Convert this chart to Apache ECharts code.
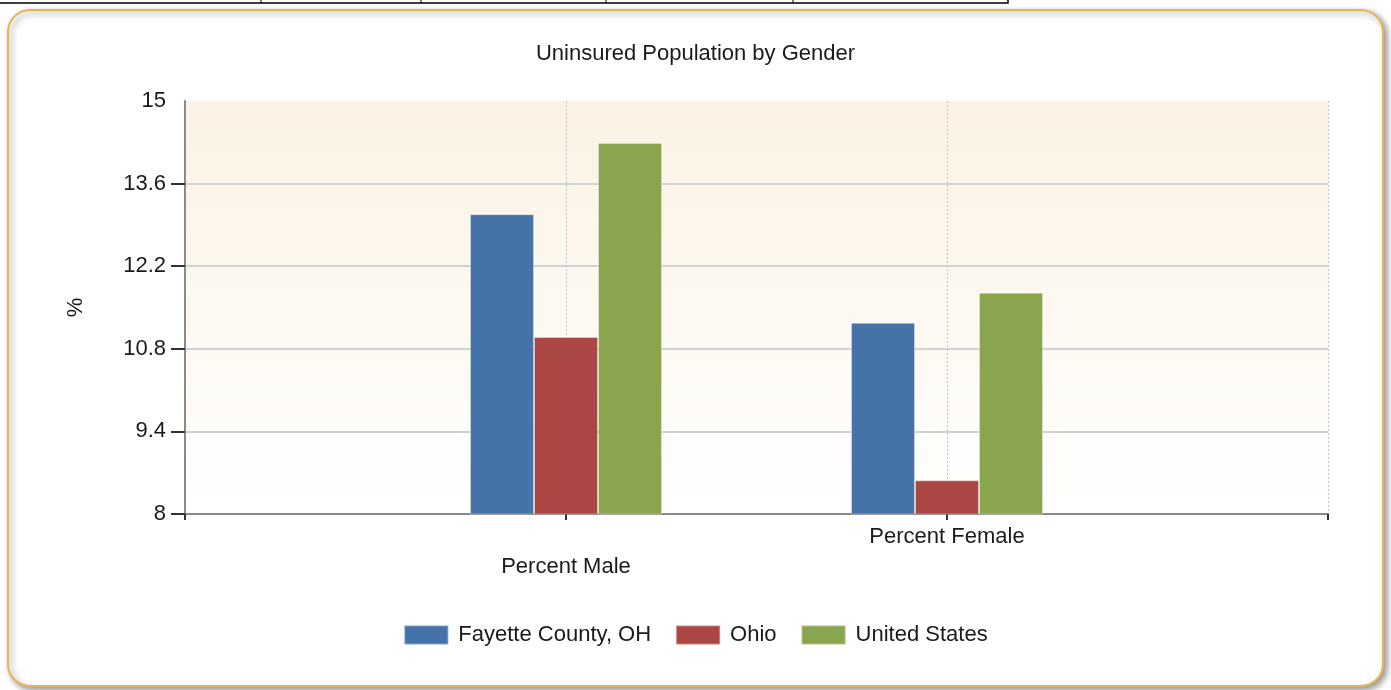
<!DOCTYPE html>
<html>
<head>
<meta charset="utf-8">
<script src="https://cdn.jsdelivr.net/npm/echarts@6/dist/echarts.min.js"></script>
<style>
html,body{margin:0;padding:0;background:#fff;}
#chart{width:1391px;height:690px;}
</style>
</head>
<body>
<div id="chart"></div>
<script>
const title = 'Uninsured Population by Gender';
const categories = ['Percent Male', 'Percent Female'];
const seriesNames = ['Fayette County, OH', 'Ohio', 'United States'];
const fayette = [13.08, 11.24];
const ohio = [11.0, 8.57];
const unitedStates = [14.29, 11.75];
const yTicks = [8, 9.4, 10.8, 12.2, 13.6, 15];
const yTickMarks = [8, 9.4, 10.8, 12.2, 13.6];
const colors = ['#4572A7', '#AA4643', '#89A54E'];

const axisCats = [''].concat(categories, ['']);
function pad(arr) { return [null].concat(arr, [null]); }
const allValues = [fayette, ohio, unitedStates];

const font = '"Liberation Sans", Arial, sans-serif';
const chart = echarts.init(document.getElementById('chart'), null, {renderer: 'canvas'});
chart.setOption({
  backgroundColor: '#ffffff',
  animation: false,
  textStyle: {fontFamily: font},
  graphic: [
    {type: 'rect', z: -10, shape: {x: 8, y: 10, width: 1375, height: 676, r: 22},
     style: {fill: '#ffffff', stroke: '#E8B552', lineWidth: 2,
             shadowBlur: 6, shadowOffsetX: 3, shadowOffsetY: 3, shadowColor: 'rgba(0,0,0,0.4)'}},
    {type: 'rect', z: 10, shape: {x: -2, y: -1, width: 1010, height: 4},
     style: {fill: 'none', stroke: '#000', lineWidth: 1.5}},
    {type: 'line', z: 10, shape: {x1: 261, y1: 0, x2: 261, y2: 3}, style: {stroke: '#000', lineWidth: 1}},
    {type: 'line', z: 10, shape: {x1: 421, y1: 0, x2: 421, y2: 3}, style: {stroke: '#000', lineWidth: 1}},
    {type: 'line', z: 10, shape: {x1: 606, y1: 0, x2: 606, y2: 3}, style: {stroke: '#000', lineWidth: 1}},
    {type: 'line', z: 10, shape: {x1: 793, y1: 0, x2: 793, y2: 3}, style: {stroke: '#000', lineWidth: 1}}
  ],
  title: {
    text: title, left: 'center', top: 38,
    textStyle: {fontSize: 22, fontWeight: 'normal', color: '#1a1a1a', fontFamily: font}
  },
  legend: {
    data: seriesNames, top: 619, left: 'center',
    itemWidth: 44, itemHeight: 19, itemGap: 24, icon: 'rect',
    textStyle: {fontSize: 22, color: '#1a1a1a', fontFamily: font, padding: [0, 0, 0, 5]}
  },
  grid: {
    left: 185, right: 63, top: 101, bottom: 176, containLabel: false, show: true,
    borderWidth: 0,
    backgroundColor: {type: 'linear', x: 0, y: 0, x2: 0, y2: 1,
      colorStops: [{offset: 0, color: '#FBF2E3'}, {offset: 1, color: '#FFFFFF'}]}
  },
  xAxis: {
    type: 'category', data: axisCats, boundaryGap: false,
    axisLine: {lineStyle: {color: '#8a8a8a', width: 2}},
    axisTick: {show: true, length: 6, lineStyle: {color: '#333', width: 2}},
    axisLabel: {
      interval: 0, margin: 8, fontSize: 22, color: '#1a1a1a', lineHeight: 30, fontFamily: font,
      formatter: function (v, i) { return i === 1 ? '\n' + v : v; }
    },
    splitLine: {show: true, lineStyle: {color: '#c4c4c4', type: [2, 2], width: 1}}
  },
  yAxis: {
    type: 'value', min: 8, max: 15,
    name: '%', nameLocation: 'middle', nameGap: 98, nameRotate: 90,
    nameTextStyle: {fontSize: 22, color: '#1a1a1a', fontFamily: font},
    axisLine: {show: true, lineStyle: {color: '#8a8a8a', width: 2}},
    axisTick: {show: true, length: 14, customValues: yTickMarks, lineStyle: {color: '#333', width: 2}},
    axisLabel: {customValues: yTicks, margin: 19, fontSize: 22, color: '#1a1a1a', fontFamily: font},
    splitLine: {show: true, lineStyle: {color: '#d2d2d2', width: 2}}
  },
  series: allValues.map(function (vals, k) {
    return {
      name: seriesNames[k], type: 'bar', data: pad(vals),
      barWidth: 64, barGap: '0%',
      itemStyle: {color: colors[k], borderColor: 'rgba(255,255,255,0.35)', borderWidth: 1}
    };
  })
});
</script>
</body>
</html>
